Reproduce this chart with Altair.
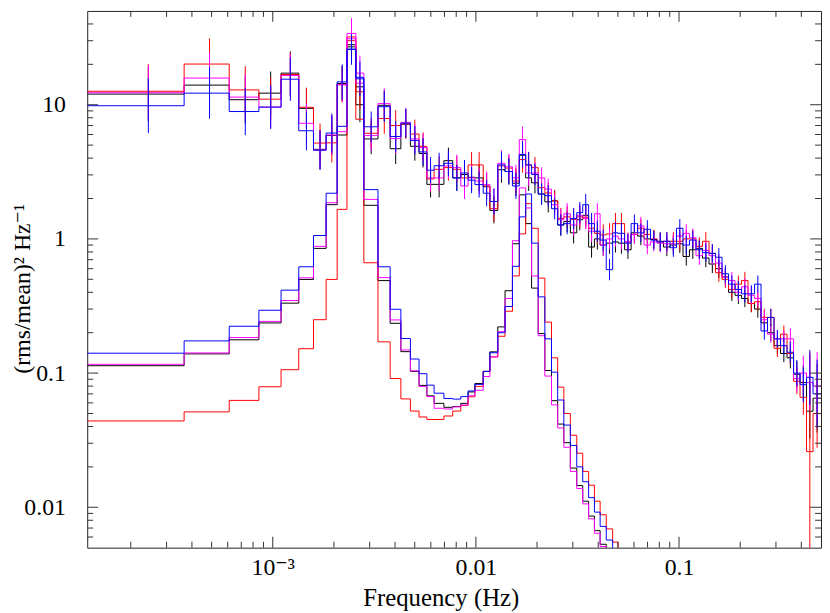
import altair as alt
import pandas as pd

DF = 1.0 / 8192.0  # frequency resolution (Hz)

# bin edges in units of DF
EDGES = [1, 3, 5, 7, 9, 11, 13, 15, 17, 19, 21, 23, 27, 31, 35, 39, 43, 47, 51,
         57, 63, 69, 75, 81, 89, 96, 105, 114, 124, 134, 144, 154, 166, 179,
         193, 207, 222, 239, 257, 275, 294, 314, 335, 359, 386, 411, 442, 476,
         512, 551, 593, 638, 687, 740, 796, 857, 922, 993, 1069, 1151, 1239,
         1334, 1436, 1546, 1664, 1791, 1928, 2075, 2234, 2405, 2589, 2787,
         3000, 3229, 3476, 3742, 4096]

DATA_K = [12.0, 14.0, 10.9, 12.2, 17.2, 9.4, 4.65, 5.9, 14.4, 28.0,
          10.0, 5.56, 9.9, 4.7, 7.15, 4.9, 4.33, 2.55, 2.55, 3.83,
          2.85, 3.02, 2.88, 2.85, 2.45, 1.63, 3.28, 3.18, 2.6, 4.2,
          2.85, 2.62, 2.16, 1.89, 1.92, 1.27, 1.35, 1.11, 1.39, 1.5,
          0.87, 1.0, 0.9, 0.93, 0.95, 0.93, 0.83, 1.11, 1.05, 1.0,
          0.99, 0.96, 0.87, 0.9, 0.92, 0.74, 0.83, 0.85, 0.72, 0.65,
          0.6, 0.52, 0.4, 0.38, 0.36, 0.33, 0.3, 0.237, 0.2, 0.16,
          0.14, 0.13, 0.098, 0.085, 0.052, 0.065]
DATA_R = [12.6, 20.1, 12.9, 11.0, 16.8, 9.57, 5.18, 5.2, 14.1, 32.0,
          12.5, 6.13, 7.9, 7.0, 7.2, 6.05, 4.9, 2.8, 3.3, 3.4,
          3.3, 2.85, 3.56, 3.56, 2.48, 1.68, 3.5, 3.37, 2.7, 3.9,
          3.56, 3.4, 2.41, 2.2, 1.92, 1.42, 1.46, 1.4, 1.46, 1.45,
          1.2, 1.1, 1.07, 1.09, 1.3, 1.3, 0.95, 1.08, 1.2, 1.08,
          1.0, 0.95, 0.96, 0.96, 0.96, 1.0, 1.0, 0.88, 0.96, 0.78,
          0.56, 0.5, 0.42, 0.46, 0.49, 0.33, 0.34, 0.26, 0.26, 0.153,
          0.195, 0.14, 0.087, 0.066, 0.026, 0.05]
DATA_M = [12.3, 15.8, 11.4, 9.6, 16.5, 7.27, 4.6, 5.95, 14.1, 34.0,
          17.2, 5.89, 10.2, 5.6, 7.4, 5.56, 4.8, 2.85, 2.85, 3.5,
          3.4, 2.48, 2.85, 2.7, 2.54, 1.9, 3.66, 3.45, 2.85, 5.5,
          3.1, 3.1, 2.85, 2.35, 1.8, 1.39, 1.54, 1.27, 1.5, 1.42,
          1.14, 1.54, 0.9, 1.0, 1.05, 1.0, 0.95, 1.08, 1.25, 0.9,
          0.95, 0.93, 0.92, 0.92, 1.05, 1.1, 1.02, 0.75, 0.82, 0.75,
          0.66, 0.52, 0.49, 0.4, 0.44, 0.38, 0.36, 0.25, 0.195, 0.18,
          0.18, 0.18, 0.091, 0.1, 0.085, 0.08]
DATA_B = [9.83, 12.2, 8.9, 9.6, 15.5, 6.4, 4.58, 6.15, 14.8, 25.8,
          15.6, 6.85, 9.67, 5.8, 7.3, 5.42, 4.45, 3.25, 3.51, 3.66,
          2.85, 3.1, 2.74, 2.54, 2.19, 1.9, 3.56, 3.18, 2.48, 4.26,
          3.56, 3.02, 2.16, 2.1, 1.68, 1.27, 1.3, 1.42, 1.57, 1.8,
          1.3, 1.14, 0.98, 0.59, 1.11, 1.1, 0.93, 1.3, 1.11, 1.18,
          0.98, 0.95, 0.96, 0.86, 1.2, 0.9, 0.98, 0.83, 0.79, 0.78,
          0.73, 0.55, 0.46, 0.42, 0.39, 0.39, 0.46, 0.206, 0.26, 0.18,
          0.16, 0.143, 0.1, 0.082, 0.093, 0.07]

# relative (log-symmetric) error per bin
ERR = [0.6, 0.55, 0.5, 0.45, 0.45, 0.4, 0.4, 0.4, 0.35, 0.3,
       0.35, 0.3, 0.3, 0.3, 0.28, 0.28, 0.27, 0.25, 0.25, 0.25,
       0.25, 0.25, 0.25, 0.25, 0.25, 0.25, 0.25, 0.25, 0.25, 0.25,
       0.25, 0.2, 0.2, 0.2, 0.2, 0.2, 0.2, 0.2, 0.2, 0.2,
       0.2, 0.2, 0.2, 0.2, 0.2, 0.2, 0.17, 0.17, 0.17, 0.17,
       0.17, 0.17, 0.17, 0.17, 0.17, 0.17, 0.17, 0.17, 0.17, 0.17,
       0.17, 0.16, 0.16, 0.16, 0.16, 0.16, 0.16, 0.16, 0.16, 0.16,
       0.16, 0.2, 0.25, 0.35, 0.6, 0.8]
ERR_OVERRIDE = {"r": {74: 4.5}}

MODEL_K = [0.1135, 0.139, 0.177, 0.2365, 0.332, 0.499, 0.85, 1.80, 5.95, 27.0,
           13.6, 1.78, 0.489, 0.235, 0.1445, 0.103, 0.081, 0.0677, 0.0595, 0.0556,
           0.0563, 0.0595, 0.0724, 0.0837, 0.103, 0.144, 0.221, 0.411, 0.92, 2.13,
           1.30, 0.43, 0.197, 0.1046, 0.0623, 0.0417, 0.0303, 0.0196, 0.0145, 0.0111,
           0.0086, 0.0067, 0.0053, 0.0042, 0.0034]
MODEL_M = [0.1163, 0.1413, 0.184, 0.2429, 0.3475, 0.513, 0.88, 1.86, 6.3, 31.0,
           14.5, 1.97, 0.515, 0.249, 0.1487, 0.104, 0.0796, 0.0668, 0.0547, 0.054,
           0.056, 0.0578, 0.0677, 0.0744, 0.0943, 0.132, 0.2033, 0.36, 0.97, 2.4,
           1.7, 0.53, 0.19, 0.095, 0.058, 0.039, 0.028, 0.0185, 0.0138, 0.0106,
           0.0082, 0.0064, 0.0051, 0.004, 0.0032]
MODEL_B = [0.1407, 0.1738, 0.2234, 0.294, 0.415, 0.62, 1.06, 2.19, 6.9, 26.0,
           16.0, 2.33, 0.62, 0.299, 0.181, 0.1273, 0.099, 0.0813, 0.0708, 0.0647,
           0.064, 0.0668, 0.0736, 0.0824, 0.1029, 0.1418, 0.2, 0.3136, 0.625, 1.46,
           2.16, 0.93, 0.37, 0.18, 0.1016, 0.063, 0.041, 0.0289, 0.02, 0.0155,
           0.0118, 0.0092, 0.0072, 0.0057, 0.0046]
MODEL_R = [0.044, 0.0514, 0.0626, 0.0791, 0.106, 0.152, 0.25, 0.499, 1.66, 30.0,
           7.8, 0.664, 0.171, 0.0911, 0.0642, 0.0521, 0.0471, 0.0451, 0.0451, 0.0479,
           0.0521, 0.0573, 0.0666, 0.0796, 0.1029, 0.132, 0.188, 0.289, 0.53, 1.09,
           1.83, 1.2, 0.51, 0.24, 0.13, 0.0786, 0.05, 0.0344, 0.0253, 0.0185,
           0.0146, 0.0111, 0.0088, 0.0069, 0.0055, 0.0043]

SERIES = [("k", "#000000", DATA_K, MODEL_K),
          ("r", "#ff0000", DATA_R, MODEL_R),
          ("m", "#ff00ff", DATA_M, MODEL_M),
          ("b", "#0000ff", DATA_B, MODEL_B)]

X_MAJOR = [0.001, 0.01, 0.1]
X_MINOR = [2e-4, 3e-4, 4e-4, 5e-4, 6e-4, 7e-4, 8e-4, 9e-4,
           2e-3, 3e-3, 4e-3, 5e-3, 6e-3, 7e-3, 8e-3, 9e-3,
           0.02, 0.03, 0.04, 0.05, 0.06, 0.07, 0.08, 0.09,
           0.2, 0.3, 0.4]
Y_MAJOR = [0.01, 0.1, 1, 10]
Y_MINOR = [0.006, 0.007, 0.008, 0.009,
           0.02, 0.03, 0.04, 0.05, 0.06, 0.07, 0.08, 0.09,
           0.2, 0.3, 0.4, 0.5, 0.6, 0.7, 0.8, 0.9,
           2, 3, 4, 5, 6, 7, 8, 9, 20, 30, 40]

W, H = 741, 542
FONT = "'Liberation Serif', 'Times New Roman', 'DejaVu Serif', serif"
XS = alt.Scale(type="log", domain=[DF, 0.5], nice=False)
YS = alt.Scale(type="log", domain=[0.005, 50], nice=False)

XAXIS = alt.Axis(values=X_MAJOR, ticks=False, domain=False, grid=False,
                 labelExpr="datum.value < 0.005 ? '10⁻³' : (datum.value < 0.05 ? '0.01' : '0.1')",
                 labelFont=FONT, labelFontSize=24, labelColor="black", labelPadding=8,
                 labelFlush=False, labelOverlap=False,
                 title="Frequency (Hz)", titleFont=FONT, titleFontSize=25,
                 titleFontWeight="normal", titleColor="black",
                 titleX=357, titleY=58, titleAlign="center",
                 titleBaseline="alphabetic")
YAXIS = alt.Axis(values=Y_MAJOR, ticks=False, domain=False, grid=False,
                 labelExpr="datum.value < 0.05 ? '0.01' : (datum.value < 0.5 ? '0.1' : (datum.value < 5 ? '1' : '10'))",
                 labelFont=FONT, labelFontSize=24, labelColor="black", labelPadding=22,
                 labelFlush=False, labelOverlap=False,
                 title="(rms/mean)² Hz⁻¹", titleFont=FONT, titleFontSize=24,
                 titleFontWeight="normal", titleColor="black",
                 titleX=-58, titleY=280, titleAngle=270, titleAlign="center",
                 titleBaseline="alphabetic")


def xenc(field):
    return alt.X(field, type="quantitative", scale=XS, axis=XAXIS)


def yenc(field):
    return alt.Y(field, type="quantitative", scale=YS, axis=YAXIS)


def step_frame(vals):
    n = len(vals)
    f = [EDGES[i] * DF for i in range(n)] + [EDGES[n] * DF]
    v = list(vals) + [vals[-1]]
    return pd.DataFrame({"f": f, "v": v})


def err_frame(key, vals):
    rows = []
    for i, v in enumerate(vals):
        e = ERR_OVERRIDE.get(key, {}).get(i, ERR[i])
        rows.append({"fc": (EDGES[i] + EDGES[i + 1]) / 2 * DF,
                     "lo": v / (1 + e), "hi": v * (1 + e)})
    return pd.DataFrame(rows)


layers = []
for key, col, dvals, mvals in SERIES:
    layers.append(alt.Chart(step_frame(dvals)).mark_line(
        interpolate="step-after", color=col, strokeWidth=1, clip=True
    ).encode(x=xenc("f"), y=yenc("v")))
    layers.append(alt.Chart(err_frame(key, dvals)).mark_rule(
        color=col, strokeWidth=1, clip=True
    ).encode(x=xenc("fc"), y=yenc("lo"), y2="hi"))
    layers.append(alt.Chart(step_frame(mvals)).mark_line(
        interpolate="step-after", color=col, strokeWidth=1, clip=True
    ).encode(x=xenc("f"), y=yenc("v")))

# tick marks (inward, on all four sides)
xmaj = pd.DataFrame({"t": X_MAJOR})
xmin = pd.DataFrame({"t": X_MINOR})
ymaj = pd.DataFrame({"t": Y_MAJOR})
ymin = pd.DataFrame({"t": Y_MINOR})
TK = "#333333"
for df, L in ((xmaj, 11), (xmin, 6)):
    layers.append(alt.Chart(df).mark_rule(color=TK, strokeWidth=1).encode(
        x=xenc("t"), y=alt.value(H), y2=alt.value(H - L)))
    layers.append(alt.Chart(df).mark_rule(color=TK, strokeWidth=1).encode(
        x=xenc("t"), y=alt.value(0), y2=alt.value(L)))
for df, L in ((ymaj, 11), (ymin, 6)):
    layers.append(alt.Chart(df).mark_rule(color=TK, strokeWidth=1).encode(
        y=yenc("t"), x=alt.value(0), x2=alt.value(L)))
    layers.append(alt.Chart(df).mark_rule(color=TK, strokeWidth=1).encode(
        y=yenc("t"), x=alt.value(W), x2=alt.value(W - L)))

chart = alt.layer(*layers).properties(
    width=W, height=H,
    padding={"left": 80, "top": 0, "right": 1, "bottom": 63},
    autosize=alt.AutoSizeParams(type="none"),
    background="white",
).configure_view(stroke="#222222", strokeWidth=1)

chart.save("out.html", embed_options={"renderer": "svg", "actions": False})
